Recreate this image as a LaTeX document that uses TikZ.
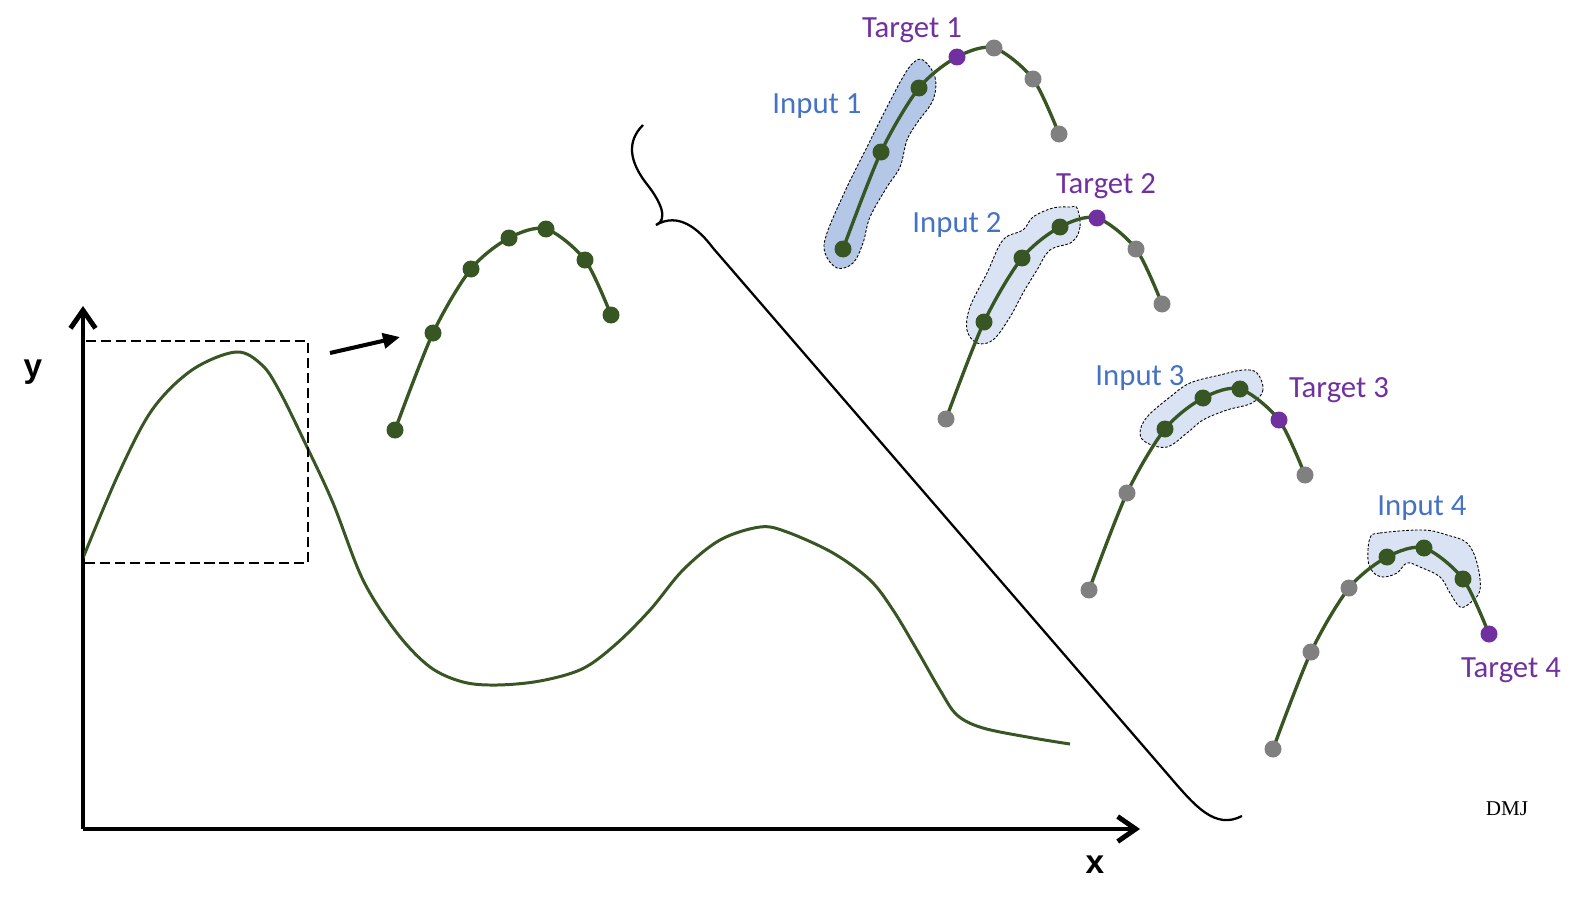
\documentclass[tikz,border=0pt]{standalone}
\usepackage{fontspec}
\newfontfamily\labelfont{Carlito}
\newfontfamily\axisfont{Liberation Sans}
\newfontfamily\signfont{Liberation Serif}
\usetikzlibrary{arrows.meta}

\definecolor{trendgreen}{HTML}{375623}
\definecolor{pastgrey}{HTML}{808080}
\definecolor{targetpurple}{HTML}{7030A0}
\definecolor{inputblue}{HTML}{4472C4}
\definecolor{blobdark}{HTML}{B4C7E7}
\definecolor{bloblight}{HTML}{DAE3F3}

% one window of seven samples: name, shift, colours of the points
\newcommand{\slice}[3]{%
	\begin{scope}[shift={#2}]
		\foreach \px/\py [count=\i] in {395/430,433/333,471/269,509/238,546/229,585/260,611/315}
			\coordinate (#1-\i) at (\px,\py);
		\draw[trend] plot[smooth] coordinates {(#1-1) (#1-2) (#1-3) (#1-4) (#1-5) (#1-6) (#1-7)};
		\foreach \c [count=\i] in {#3}
			\node[dot, fill=\c] (#1-dot\i) at (#1-\i) {};
	\end{scope}}

\begin{document}
\begin{tikzpicture}[x=0.02cm, y=-0.02cm,
	trend/.style={trendgreen, line width=1.9pt},
	dot/.style={circle, inner sep=0pt, minimum size=0.34cm},
	blob/.style={draw=black, line width=0.5pt, dash pattern=on 1.5pt off 1pt},
	inlabel/.style={font=\labelfont\fontsize{17.5}{20}\selectfont, text=inputblue, anchor=base},
	tglabel/.style={font=\labelfont\fontsize{17.5}{20}\selectfont, text=targetpurple, anchor=base},
	axislabel/.style={font=\axisfont\bfseries\fontsize{19}{20}\selectfont, anchor=base}]
	
	\useasboundingbox (0,0) rectangle (1582,906);
	
	% Axes
	\coordinate (origin) at (83,829);
	\coordinate (ytip) at (83,306);
	\coordinate (xtip) at (1140,829);
	\draw[line width=2.8pt, -{Straight Barb[length=0.36cm,width=0.5cm]}] (origin) -- (ytip);
	\draw[line width=2.8pt, -{Straight Barb[length=0.36cm,width=0.5cm]}] (origin) -- (xtip);
	\node[axislabel] (ylabel) at (33,377) {y};
	\node[axislabel] (xlabel) at (1095,873) {x};
	
	% Series
	\draw[trendgreen, line width=1.7pt] plot[smooth, tension=0.55] coordinates {
		(83,558) (118,475) (152,410) (192,370) (236,352) (262,365) (280,392)
		(307,447) (333,503) (363,580) (397,633) (430,667) (463,682) (497,685)
		(540,681) (582,669) (615,645) (650,610) (683,570) (720,540) (760,527)
		(787,532) (833,553) (870,580) (893,610) (917,650) (940,690) (957,715)
		(983,728) (1033,738) (1070,744)};
	
	% Zoomed window
	\draw[line width=1.5pt, dash pattern=on 5.7pt off 2.8pt] (83,341) rectangle (308,563);
	\coordinate (zoomfrom) at (330,353);
	\coordinate (zoomto) at (400,337);
	\draw[line width=2.3pt, -{Triangle[length=0.34cm,width=0.3cm]}] (zoomfrom) -- (zoomto);
	\slice{m}{(0,0)}{trendgreen,trendgreen,trendgreen,trendgreen,trendgreen,trendgreen,trendgreen}
	
	% Brace
	\draw[line width=1.3pt] (643,125) .. controls (626,142) and (630,162) .. (646,183)
		.. controls (662,203) and (668,220) .. (656,225)
		.. controls (678,212) and (698,228) .. (713,248)
		-- (1170,777) .. controls (1195,806) and (1215,830) .. (1242,816);
	
	% Input regions
	\draw[blob, fill=blobdark] plot[smooth cycle, tension=0.6] coordinates {
		(923,60) (935,77) (933,100) (917,123) (907,140) (900,167) (887,187)
		(870,217) (863,243) (853,263) (837,268) (825,253) (827,233) (847,187)
		(867,147) (887,107) (903,77) (913,63)};
	\draw[blob, fill=bloblight] plot[smooth cycle, tension=0.6] coordinates {
		(1077,208) (1080,227) (1072,242) (1050,250) (1037,270) (1023,293)
		(1010,317) (993,340) (977,343) (967,330) (970,307) (987,273) (1003,240)
		(1023,230) (1033,217) (1053,208) (1070,207)};
	\draw[blob, fill=bloblight] plot[smooth cycle, tension=0.6] coordinates {
		(1257,373) (1263,390) (1252,403) (1227,410) (1203,420) (1187,433)
		(1167,447) (1147,443) (1140,433) (1147,417) (1170,397) (1190,383)
		(1220,375) (1243,370)};
	\draw[blob, fill=bloblight] plot[smooth cycle, tension=0.6] coordinates {
		(1370,538) (1380,533) (1423,530) (1447,535) (1467,543) (1477,563)
		(1480,590) (1470,603) (1460,607) (1450,593) (1440,577) (1420,567)
		(1407,563) (1397,573) (1383,577) (1373,572) (1368,560)};
	
	% Sliding windows
	\slice{w1}{(448,-181)}{trendgreen,trendgreen,trendgreen,targetpurple,pastgrey,pastgrey,pastgrey}
	\slice{w2}{(551,-11)}{pastgrey,trendgreen,trendgreen,trendgreen,targetpurple,pastgrey,pastgrey}
	\slice{w3}{(694,160)}{pastgrey,pastgrey,trendgreen,trendgreen,trendgreen,targetpurple,pastgrey}
	\slice{w4}{(878,319)}{pastgrey,pastgrey,pastgrey,trendgreen,trendgreen,trendgreen,targetpurple}
	
	% Labels
	\node[tglabel] (target1) at (912,37) {Target 1};
	\node[inlabel] (input1) at (817,113) {Input 1};
	\node[tglabel] (target2) at (1106,193) {Target 2};
	\node[inlabel] (input2) at (957,232) {Input 2};
	\node[inlabel] (input3) at (1140,385) {Input 3};
	\node[tglabel] (target3) at (1339,397) {Target 3};
	\node[inlabel] (input4) at (1422,515) {Input 4};
	\node[tglabel] (target4) at (1511,677) {Target 4};
	\node[font=\signfont\fontsize{12}{12}\selectfont, anchor=base] (sign) at (1507,815) {DMJ};
	
\end{tikzpicture}
\end{document}
